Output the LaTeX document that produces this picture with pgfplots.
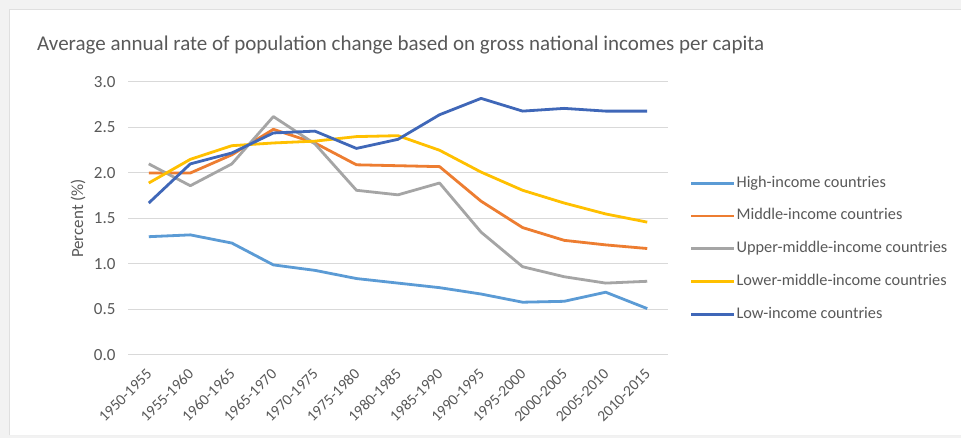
\documentclass[border=0pt]{standalone}
\usepackage{pgfplots}
\pgfplotsset{compat=1.18}
\usepackage{fontspec}
\setmainfont{Carlito}
\definecolor{cHigh}{HTML}{5B9BD5}
\definecolor{cMid}{HTML}{ED7D31}
\definecolor{cUpper}{HTML}{A5A5A5}
\definecolor{cLower}{HTML}{FFC000}
\definecolor{cLow}{HTML}{3F67B8}
\definecolor{txt}{HTML}{595959}
\definecolor{gridc}{HTML}{D9D9D9}
\definecolor{outer}{HTML}{F2F2F2}
\begin{document}
\begin{tikzpicture}
\path[use as bounding box, fill=outer] (0pt,0pt) rectangle (961pt,438pt);
\fill[white] (9pt,3pt) rectangle (961pt,429pt);
\draw[gray!25] (9pt,3pt) -- (9pt,429pt) -- (961pt,429pt);
\draw[gray!12] (9pt,3pt) -- (961pt,3pt);
\node[anchor=west, font=\fontsize{21}{25}\selectfont, text=txt, inner sep=0pt] at (37pt,393pt)
  {Average annual rate of population change based on gross national incomes per capita};
\begin{axis}[
  at={(128pt,83pt)}, anchor=south west, scale only axis,
  width=540pt, height=273pt,
  xmin=-0.5, xmax=12.5, ymin=0, ymax=3,
  xtick={0,...,12},
  xticklabels={1950-1955,1955-1960,1960-1965,1965-1970,1970-1975,1975-1980,1980-1985,1985-1990,1990-1995,1995-2000,2000-2005,2005-2010,2010-2015},
  ytick={0,0.5,1,1.5,2,2.5,3},
  /pgf/number format/assume math mode=true,
  /pgf/number format/fixed, /pgf/number format/fixed zerofill, /pgf/number format/precision=1,
  ymajorgrids, grid style={gridc, line width=1pt},
  axis line style={draw=none},
  tick style={draw=none}, major tick length=0pt,
  tick label style={font=\fontsize{17}{20}\selectfont, text=txt},
  yticklabel style={xshift=-9pt},
  xticklabel style={xshift=3pt, yshift=-14pt, rotate=45, anchor=east, font=\fontsize{15.5}{18}\selectfont},
  ylabel={Percent (\%)},
  every axis y label/.style={at={(axis description cs:-0.0926,0.5)}, rotate=90, anchor=center, font=\fontsize{17}{20}\selectfont, text=txt},
  legend style={draw=none, fill=none, at={(axis description cs:1.04,0.389)}, anchor=west,
    font=\fontsize{16.3}{19}\selectfont, text=txt, row sep=16.8pt, inner sep=0pt,
    nodes={inner sep=1pt, text height=11pt, text depth=3pt}},
  legend cell align=left,
  legend image code/.code={\draw[#1] (0pt,0pt) -- (43pt,0pt);},
  every axis plot/.append style={line width=2.8pt, line join=round, mark=none},
]
\addplot[cHigh] coordinates {(0,1.30)(1,1.32)(2,1.23)(3,0.99)(4,0.93)(5,0.84)(6,0.79)(7,0.74)(8,0.67)(9,0.58)(10,0.59)(11,0.69)(12,0.51)};
\addlegendentry{High-income countries}
\addplot[cMid] coordinates {(0,2.00)(1,2.00)(2,2.20)(3,2.48)(4,2.33)(5,2.09)(6,2.08)(7,2.07)(8,1.69)(9,1.40)(10,1.26)(11,1.21)(12,1.17)};
\addlegendentry{Middle-income countries}
\addplot[cUpper] coordinates {(0,2.10)(1,1.86)(2,2.10)(3,2.62)(4,2.32)(5,1.81)(6,1.76)(7,1.89)(8,1.35)(9,0.97)(10,0.86)(11,0.79)(12,0.81)};
\addlegendentry{Upper-middle-income countries}
\addplot[cLower] coordinates {(0,1.89)(1,2.15)(2,2.30)(3,2.33)(4,2.35)(5,2.40)(6,2.41)(7,2.25)(8,2.01)(9,1.81)(10,1.67)(11,1.55)(12,1.46)};
\addlegendentry{Lower-middle-income countries}
\addplot[cLow] coordinates {(0,1.67)(1,2.10)(2,2.22)(3,2.44)(4,2.46)(5,2.27)(6,2.37)(7,2.64)(8,2.82)(9,2.68)(10,2.71)(11,2.68)(12,2.68)};
\addlegendentry{Low-income countries}
\end{axis}
\end{tikzpicture}
\end{document}
